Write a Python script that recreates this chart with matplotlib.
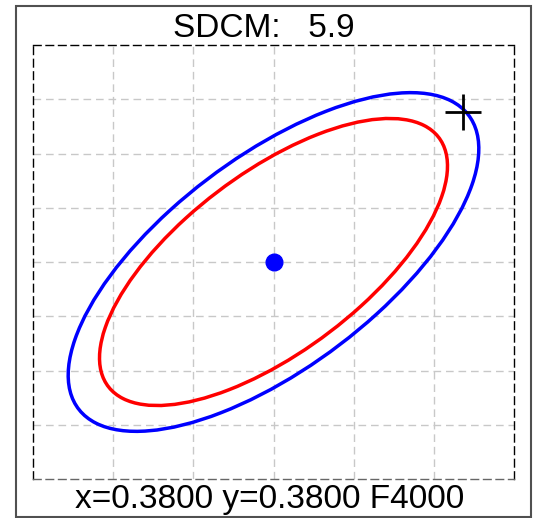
import matplotlib
matplotlib.use("Agg")
import matplotlib.pyplot as plt
from matplotlib.patches import Ellipse, Rectangle

plt.rcParams['font.family'] = ['Liberation Sans', 'DejaVu Sans']

# ---- data ----
center_x = 0.3800
center_y = 0.3800
ellipse_a = 0.00314      # 1-step semi-major axis
ellipse_b = 0.00136      # 1-step semi-minor axis
ellipse_theta = 53.3     # degrees
steps = [5.0, 5.9]
step_colors = ['#ff0000', '#0000ff']
test_x = 0.3918
test_y = 0.3938
sdcm = 5.9
cct_label = 'F4000'
x_grid = [0.370, 0.375, 0.380, 0.385, 0.390]
y_grid = [0.365, 0.370, 0.375, 0.380, 0.385, 0.390, 0.395]

W, H = 535, 518
fig = plt.figure(figsize=(W / 100, H / 100), dpi=100)

# outer frame
fig.patches.append(Rectangle((16 / W, 1 / H), (531 - 16) / W, (517 - 6) / H,
                             transform=fig.transFigure, fill=False,
                             edgecolor='#505050', linewidth=1.5, zorder=0))

ax = fig.add_axes([33 / W, 39 / H, 481 / W, 434 / H])
ax.set_xlim(0.365, 0.395)
ax.set_ylim(0.360, 0.400)
ax.set_xticks(x_grid)
ax.set_yticks(y_grid)
ax.tick_params(length=0, labelbottom=False, labelleft=False)
ax.grid(True, color='#c8c8c8', linestyle=(0, (5.5, 3.5)), linewidth=1.0)
ax.set_axisbelow(True)
for name, sp in ax.spines.items():
    sp.set_linestyle((0, (5.5, 3.5)))
    sp.set_linewidth(1.0)
    sp.set_color('#666666' if name == 'bottom' else 'black')

for s, c in zip(steps, step_colors):
    e = Ellipse((center_x, center_y), width=2 * ellipse_a * s, height=2 * ellipse_b * s,
                angle=ellipse_theta, fill=False, edgecolor=c, linewidth=2.5, zorder=3)
    ax.add_patch(e)

ax.plot([center_x], [center_y], 'o', color='#0000ff', markersize=12, zorder=4)
ax.plot([test_x], [test_y], '+', color='black', markersize=26, markeredgewidth=2.0, zorder=5)

fig.text(263.5 / W, 1 - 37 / H, f"SDCM:   {sdcm:.1f}", fontsize=24, ha='center', va='baseline')
fig.text(269.5 / W, 1 - 508 / H, f"x={center_x:.4f} y={center_y:.4f} {cct_label}",
         fontsize=24, ha='center', va='baseline')

fig.savefig('out.png', dpi=100)
